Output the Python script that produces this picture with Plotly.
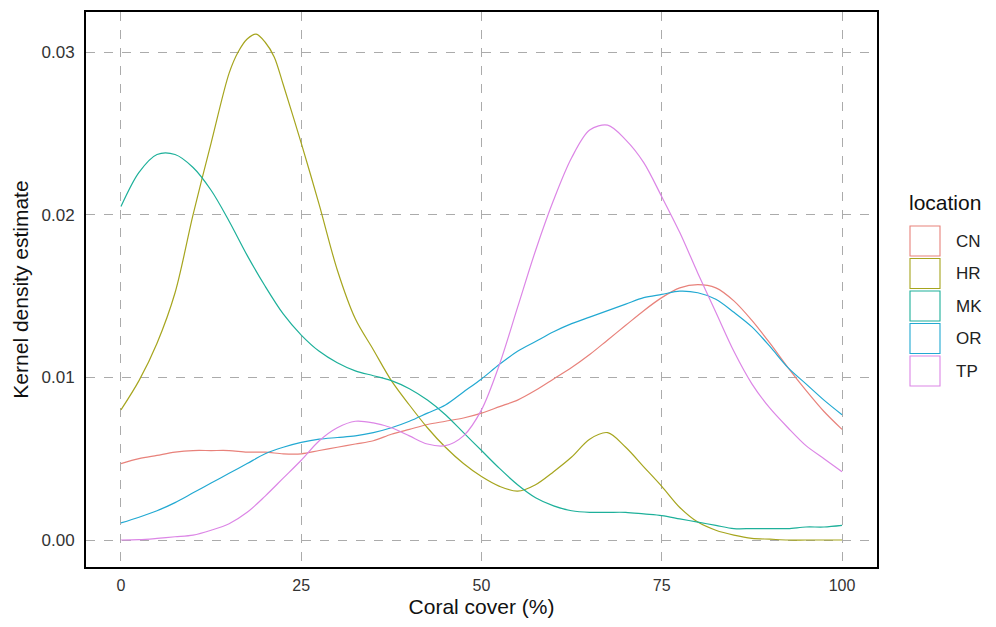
import plotly.graph_objects as go

x_grid = [i * 2.5 for i in range(41)]
x_hr = [0, 2.5, 5, 7.5, 10, 12.5, 15, 16.25, 17.5, 18.75, 20, 21.25, 22.5, 25, 27.5, 30,
        32.5, 35, 37.5, 40, 42.5, 45, 47.5, 50, 52.5, 55, 57.5, 60, 62.5, 65, 67.5, 70,
        72.5, 75, 77.5, 80, 82.5, 85, 87.5, 90, 92.5, 95, 97.5, 100]

locations = ["CN", "HR", "MK", "OR", "TP"]
colors = ["#E8827B", "#A6A51E", "#1DB09A", "#22A9D2", "#DC86E6"]

CN = [0.0047, 0.0050, 0.0052, 0.0054, 0.0055, 0.0055, 0.0055, 0.0054, 0.0054, 0.0053,
      0.0053, 0.0055, 0.0057, 0.0059, 0.0061, 0.0065, 0.0068, 0.0071, 0.0073, 0.0075,
      0.0078, 0.0082, 0.0086, 0.0092, 0.0099, 0.0106, 0.0114, 0.0123, 0.0132, 0.0141,
      0.0149, 0.0155, 0.0157, 0.0155, 0.0147, 0.0135, 0.0121, 0.0106, 0.0092, 0.0079,
      0.0068]
HR = [0.0080, 0.0098, 0.0121, 0.0152, 0.0200, 0.0244, 0.0287, 0.0300, 0.0308, 0.0311,
      0.0306, 0.0297, 0.0280, 0.0244, 0.0206, 0.0166, 0.0136, 0.0117, 0.0098, 0.0083,
      0.0069, 0.0057, 0.0047, 0.0039, 0.0033, 0.0030, 0.0034, 0.0042, 0.0051, 0.0062,
      0.0066, 0.0057, 0.0045, 0.0033, 0.0020, 0.0011, 0.0006, 0.0003, 0.0001, 0.00005,
      0.0, 0.0, 0.0, 0.0]
MK = [0.0205, 0.0226, 0.0237, 0.0237, 0.0229, 0.0215, 0.0196, 0.0175, 0.0156, 0.0139,
      0.0126, 0.0116, 0.0109, 0.0104, 0.0101, 0.0098, 0.0093, 0.0086, 0.0077, 0.0066,
      0.0055, 0.0044, 0.0034, 0.0026, 0.0021, 0.0018, 0.0017, 0.0017, 0.0017, 0.0016,
      0.0015, 0.0013, 0.0011, 0.0009, 0.0007, 0.0007, 0.0007, 0.0007, 0.0008, 0.0008,
      0.0009]
OR = [0.00105, 0.0014, 0.0018, 0.0023, 0.0029, 0.0035, 0.0041, 0.0047, 0.0053, 0.0057,
      0.0060, 0.0062, 0.0063, 0.0064, 0.0066, 0.0069, 0.0073, 0.0078, 0.0083, 0.0091,
      0.0099, 0.0108, 0.0116, 0.0122, 0.0128, 0.0133, 0.0137, 0.0141, 0.0145, 0.0149,
      0.0151, 0.0153, 0.0152, 0.0148, 0.0140, 0.0131, 0.0119, 0.0106, 0.0096, 0.0086,
      0.0077]
TP = [0.0, 0.00002, 0.0001, 0.0002, 0.0003, 0.0006, 0.0010, 0.0017, 0.0027, 0.0038,
      0.0049, 0.0061, 0.0069, 0.0073, 0.0072, 0.0069, 0.0064, 0.0059, 0.0058, 0.0064,
      0.0080, 0.0108, 0.0143, 0.0178, 0.0209, 0.0235, 0.0252, 0.0255, 0.0246, 0.0232,
      0.0211, 0.0189, 0.0164, 0.0140, 0.0116, 0.0096, 0.0081, 0.0069, 0.0058, 0.0050,
      0.0042]

series = [CN, HR, MK, OR, TP]
series_x = [x_grid, x_hr, x_grid, x_grid, x_grid]

x_ticks = [0, 25, 50, 75, 100]
y_ticks = [0.0, 0.01, 0.02, 0.03]
y_tick_labels = ["0.00", "0.01", "0.02", "0.03"]

fig = go.Figure()
for name, col, xs, vals in zip(locations, colors, series_x, series):
    fig.add_trace(go.Scatter(
        x=xs, y=vals, mode="lines", name=name,
        line=dict(color=col, width=1.2, shape="spline", smoothing=0.9),
        showlegend=False,
    ))

# page is offset by the 8px default body margin
OFF = 8
W, H = 980, 611
ml, mr, mt, mb = 78, 111, 4, 52

def px_to_paper_x(px):
    return (px - OFF - ml) / (W - ml - mr)

def py_to_paper_y(py):
    return 1 - (py - OFF - mt) / (H - mt - mb)

FONT = "Liberation Sans, Arial, sans-serif"
shapes = []
annotations = [dict(
    x=px_to_paper_x(907), y=py_to_paper_y(202), xref="paper", yref="paper",
    text="location", showarrow=False, xanchor="left", yanchor="middle",
    font=dict(family=FONT, size=21, color="#111111"),
)]
for i, (name, col) in enumerate(zip(locations, colors)):
    top = 226 + i * 32.5
    shapes.append(dict(
        type="rect", xref="paper", yref="paper",
        x0=px_to_paper_x(910), x1=px_to_paper_x(940),
        y0=py_to_paper_y(top + 30), y1=py_to_paper_y(top),
        line=dict(color=col, width=1.1), fillcolor="rgba(0,0,0,0)",
    ))
    annotations.append(dict(
        x=px_to_paper_x(954), y=py_to_paper_y(top + 15), xref="paper", yref="paper",
        text=name, showarrow=False, xanchor="left", yanchor="middle",
        font=dict(family=FONT, size=17, color="#222222"),
    ))

fig.update_layout(
    width=W, height=H,
    margin=dict(l=ml, r=mr, t=mt, b=mb, autoexpand=False),
    paper_bgcolor="white", plot_bgcolor="white",
    font=dict(family=FONT, color="#333333"),
    shapes=shapes, annotations=annotations,
    showlegend=False,
)
fig.update_xaxes(
    range=[-4.85, 104.85], tickvals=x_ticks, ticktext=[str(v) for v in x_ticks],
    showgrid=True, gridcolor="#ABABAB", griddash="dash", gridwidth=1,
    zeroline=False, showline=True, linecolor="black", linewidth=2, mirror=True,
    ticks="", ticklabelstandoff=3,
    tickfont=dict(family=FONT, size=16, color="#333333"),
    title=dict(text="Coral cover (%)", font=dict(family=FONT, size=21, color="#111111"), standoff=6),
)
fig.update_yaxes(
    range=[-0.00166, 0.03246], tickvals=y_ticks, ticktext=y_tick_labels,
    showgrid=True, gridcolor="#ABABAB", griddash="dash", gridwidth=1,
    zeroline=False, showline=True, linecolor="black", linewidth=2, mirror=True,
    ticks="", ticklabelstandoff=6,
    tickfont=dict(family=FONT, size=17, color="#333333"),
    title=dict(text="Kernel density estimate", font=dict(family=FONT, size=21, color="#111111"), standoff=7),
)

fig.write_html("out.html")
